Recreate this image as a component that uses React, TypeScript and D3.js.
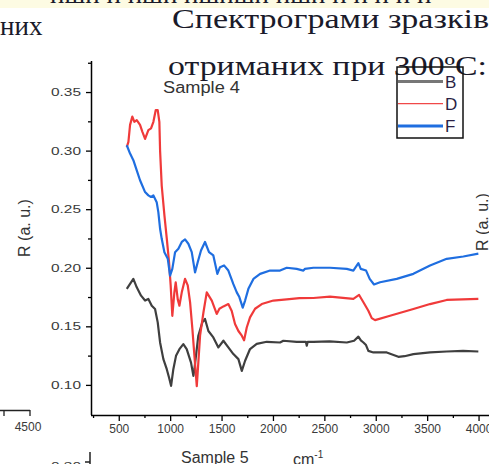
import React, { useRef, useEffect } from "react";
import { select, scaleLinear, line, axisLeft, axisBottom, format } from "d3";

// wavenumber (cm-1), reflectance (a.u.)
const seriesB: [number, number][] = [
  [578, 0.182], [610, 0.1862], [642, 0.1905], [675, 0.1833], [717, 0.1762], [756, 0.172],
  [788, 0.1734], [821, 0.1676], [853, 0.1648], [879, 0.1534], [902, 0.1362], [934, 0.122],
  [967, 0.1134], [989, 0.1063], [1009, 0.0992], [1031, 0.1134], [1057, 0.1248], [1090, 0.1305],
  [1128, 0.1348], [1161, 0.1305], [1203, 0.119], [1226, 0.1077], [1236, 0.1134], [1274, 0.142],
  [1313, 0.1534], [1339, 0.1563], [1372, 0.146], [1420, 0.1405], [1469, 0.132], [1518, 0.1377],
  [1566, 0.132], [1615, 0.1263], [1664, 0.122], [1697, 0.112], [1729, 0.1206], [1777, 0.1306],
  [1842, 0.135], [1940, 0.1368], [2069, 0.1362], [2101, 0.1377], [2231, 0.1368], [2320, 0.1368],
  [2329, 0.1335], [2338, 0.1368], [2393, 0.1368], [2550, 0.1372], [2718, 0.1362], [2789, 0.1377],
  [2831, 0.1412], [2855, 0.138], [2880, 0.1362], [2905, 0.134], [2928, 0.129], [2977, 0.1277],
  [3107, 0.1277], [3160, 0.126], [3220, 0.124], [3280, 0.1245], [3366, 0.1263], [3528, 0.1277],
  [3690, 0.1285], [3850, 0.129], [3998, 0.1285],
];

const seriesD: [number, number][] = [
  [578, 0.303], [594, 0.3075], [610, 0.322], [632, 0.329], [652, 0.3246], [675, 0.326],
  [707, 0.322], [730, 0.316], [756, 0.31], [788, 0.3175], [814, 0.319], [837, 0.3246],
  [860, 0.3346], [879, 0.3346], [895, 0.3246], [902, 0.3], [918, 0.27], [944, 0.245],
  [967, 0.225], [989, 0.205], [1005, 0.185], [1021, 0.159], [1041, 0.179], [1054, 0.1876],
  [1074, 0.173], [1090, 0.1676], [1113, 0.179], [1145, 0.1905], [1171, 0.185], [1194, 0.1705],
  [1216, 0.148], [1236, 0.125], [1259, 0.099], [1274, 0.119], [1291, 0.142], [1324, 0.162],
  [1356, 0.179], [1405, 0.172], [1453, 0.1606], [1479, 0.165], [1518, 0.167], [1566, 0.169],
  [1599, 0.163], [1631, 0.152], [1664, 0.146], [1697, 0.142], [1719, 0.138], [1745, 0.149],
  [1777, 0.1576], [1826, 0.165], [1891, 0.169], [2004, 0.172], [2134, 0.173], [2257, 0.174],
  [2393, 0.1742], [2555, 0.1753], [2782, 0.1734], [2838, 0.1768], [2880, 0.1705], [2928, 0.1633],
  [2961, 0.157], [2993, 0.1553], [3139, 0.159], [3366, 0.1648], [3528, 0.169], [3690, 0.1725],
  [3998, 0.1734],
];

const seriesF: [number, number][] = [
  [578, 0.3046], [610, 0.2975], [642, 0.2918], [675, 0.2832], [707, 0.2747], [756, 0.2646],
  [788, 0.2618], [814, 0.2604], [837, 0.2618], [869, 0.256], [885, 0.2475], [902, 0.2333],
  [918, 0.2247], [944, 0.2133], [977, 0.2076], [999, 0.1933], [1021, 0.199], [1048, 0.2133],
  [1080, 0.2162], [1113, 0.222], [1145, 0.2242], [1177, 0.2205], [1210, 0.2133], [1242, 0.196],
  [1268, 0.2047], [1300, 0.2147], [1339, 0.222], [1378, 0.2133], [1420, 0.2105], [1459, 0.1948],
  [1485, 0.2005], [1524, 0.202], [1566, 0.1976], [1615, 0.186], [1648, 0.179], [1673, 0.175],
  [1706, 0.166], [1729, 0.172], [1761, 0.182], [1810, 0.1905], [1875, 0.1948], [1972, 0.1976],
  [2069, 0.1976], [2134, 0.2], [2231, 0.199], [2296, 0.1976], [2310, 0.199], [2393, 0.2],
  [2555, 0.2], [2718, 0.199], [2782, 0.1976], [2831, 0.2039], [2854, 0.199], [2906, 0.1976],
  [2941, 0.1905], [2983, 0.1857], [3042, 0.1876], [3204, 0.1905], [3366, 0.1948], [3528, 0.2019],
  [3690, 0.2076], [3852, 0.2096], [3998, 0.212],
];

const legendNames = ["B", "D", "F"];
const yTicks = [0.1, 0.15, 0.2, 0.25, 0.3, 0.35];
const yMinorTicks = [0.125, 0.175, 0.225, 0.275, 0.325, 0.375];
const xTicks = [500, 1000, 1500, 2000, 2500, 3000, 3500, 4000];
const xMinorTicks = [250, 750, 1250, 1750, 2250, 2750, 3250, 3750];

const W = 489;
const H = 464;
const serif = "'Liberation Serif', 'Times New Roman', serif";
const sans = "'Liberation Sans', Arial, sans-serif";

const App = () => {
  const svgRef = useRef<SVGSVGElement>(null);

  const xScale = scaleLinear().domain([230, 4200]).range([91, 91 + 3970 * 0.1028]);
  const yScale = scaleLinear().domain([0.0743, 0.3765]).range([415, 61]);

  const lineGen = line<[number, number]>()
    .x(d => xScale(d[0]))
    .y(d => yScale(d[1]));

  const series = [
    { name: legendNames[0], data: seriesB, colour: "#3f3f3f", legendColour: "#777", legendWidth: 3 },
    { name: legendNames[1], data: seriesD, colour: "#f03a3a", legendColour: "#f04848", legendWidth: 1.2 },
    { name: legendNames[2], data: seriesF, colour: "#1f6ee0", legendColour: "#1f6ee0", legendWidth: 3 },
  ];

  useEffect(() => {
    const svg = select(svgRef.current);

    // y axis
    svg.select<SVGGElement>(".y-axis")
      .call(axisLeft(yScale).tickValues(yTicks).tickSize(5).tickPadding(5).tickFormat(format(".2f")))
      .call(g => g.select(".domain").attr("stroke-width", 1.5).attr("d", `M0.5,${61}V${415}`))
      .call(g => g.selectAll(".tick text")
        .attr("font-size", 11)
        .attr("textLength", 30)
        .attr("lengthAdjust", "spacingAndGlyphs"));
    svg.select<SVGGElement>(".y-axis-minor")
      .call(axisLeft(yScale).tickValues(yMinorTicks).tickSize(3).tickFormat(() => ""))
      .call(g => g.select(".domain").remove());

    // x axis
    svg.select<SVGGElement>(".x-axis")
      .call(axisBottom(xScale).tickValues(xTicks).tickSize(6).tickPadding(3).tickFormat(format("d")))
      .call(g => g.select(".domain").attr("stroke-width", 1.5).attr("d", `M91,0.5H${W + 10}`))
      .call(g => g.selectAll(".tick text").attr("font-size", 12));
    svg.select<SVGGElement>(".x-axis-minor")
      .call(axisBottom(xScale).tickValues(xMinorTicks).tickSize(3).tickFormat(() => ""))
      .call(g => g.select(".domain").remove());

    svg.selectAll(".tick text")
      .attr("font-family", sans)
      .attr("fill", "#3a3a3a");
    svg.selectAll(".tick line").attr("stroke-width", 1.3);
  }, []);

  return (
    <svg ref={svgRef} width={W} height={H} style={{ position: "absolute", left: 0, top: 0, background: "#fff" }}>
      {/* document text around the figure */}
      <rect x={0} y={0} width={W} height={8} fill="#fdfbe3" />
      <text x={50} y={3} fontFamily={serif} fontSize={27} fill="#1a1a2a">пшп п пшп пшпшп пшп п п п п п</text>
      <text x={0} y={35} fontFamily={serif} fontSize={27} fill="#1a1a2a">них</text>
      <text x={172} y={28} fontFamily={serif} fontSize={27} fill="#1a1a2a" textLength={317} lengthAdjust="spacingAndGlyphs">Спектрограми зразків</text>
      <text x={168} y={75} fontFamily={serif} fontSize={27} fill="#1a1a2a" textLength={319} lengthAdjust="spacingAndGlyphs">отриманих при 300ºC:</text>

      {/* neighbouring charts cut by the crop */}
      <path d="M0,410.5H30M4,410V416M30,410V416" stroke="#222" strokeWidth={1.3} fill="none" />
      <text x={28} y={431} textAnchor="middle" fontFamily={sans} fontSize={12} fill="#3a3a3a">4500</text>
      <path d="M90,452V464M85,462H90" stroke="#222" strokeWidth={1.5} fill="none" />
      <text x={81} y={470} textAnchor="end" fontFamily={sans} fontSize={11} fill="#3a3a3a" textLength={30} lengthAdjust="spacingAndGlyphs">0.30</text>
      <text x={181} y={463} fontFamily={sans} fontSize={16} fill="#333">Sample 5</text>
      <text x={482} y={222} textAnchor="middle" fontFamily={sans} fontSize={16} fill="#333" transform="rotate(-90 482 222)" dominantBaseline="central">R (a. u.)</text>

      {/* chart */}
      <g className="y-axis-minor" transform="translate(91,0)" />
      <g className="y-axis" transform="translate(91,0)" />
      <g className="x-axis-minor" transform="translate(0,415)" />
      <g className="x-axis" transform="translate(0,415)" />

      {series.map(s => (
        <path key={s.name} d={lineGen(s.data) || ""} fill="none" stroke={s.colour} strokeWidth={2.2} strokeLinejoin="round" />
      ))}

      <text x={163} y={93} fontFamily={sans} fontSize={16} fill="#333" textLength={77} lengthAdjust="spacingAndGlyphs">Sample 4</text>
      <text x={24} y={228} textAnchor="middle" fontFamily={sans} fontSize={16} fill="#333" transform="rotate(-90 24 228)" dominantBaseline="central">R (a. u.)</text>
      <text x={293} y={465} fontFamily={sans} fontSize={16} fill="#333">cm<tspan dy={-7} fontSize={10}>-1</tspan></text>

      {/* legend */}
      <rect x={397} y={67} width={66} height={71} fill="none" stroke="#111" strokeWidth={1.5} />
      {series.map((s, i) => (
        <g key={s.name} transform={`translate(0,${81.5 + i * 22.2})`}>
          <line x1={398} x2={443} y1={0} y2={0} stroke={s.legendColour} strokeWidth={s.legendWidth} />
          <text x={445} y={1} dominantBaseline="central" fontFamily={sans} fontSize={17} fill="#2a1f45">{s.name}</text>
        </g>
      ))}
    </svg>
  );
};

export default App;
